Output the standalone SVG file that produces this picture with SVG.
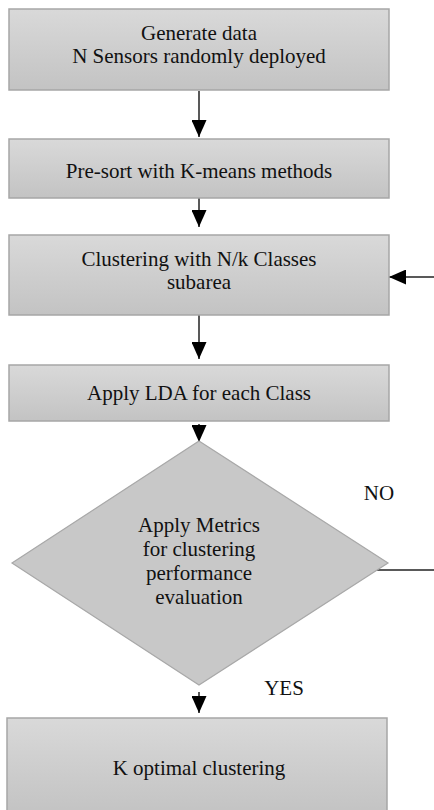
<svg xmlns="http://www.w3.org/2000/svg" width="434" height="810" viewBox="0 0 434 810">
<defs>
<linearGradient id="g" x1="0" y1="0" x2="0" y2="1">
<stop offset="0" stop-color="#d9d9d9"/>
<stop offset="1" stop-color="#c3c3c3"/>
</linearGradient>
<marker id="ah" markerWidth="17" markerHeight="15" refX="17" refY="7.5" orient="auto" markerUnits="userSpaceOnUse">
<path d="M0,0 L17,7.5 L0,15 Z" fill="#000"/>
</marker>
</defs>
<g id="connectors" stroke="#222" stroke-width="1.5" fill="none">
<line x1="199" y1="91" x2="199" y2="137" marker-end="url(#ah)"/>
<line x1="199" y1="198" x2="199" y2="227" marker-end="url(#ah)"/>
<line x1="199" y1="315" x2="199" y2="359" marker-end="url(#ah)"/>
<line x1="199" y1="424" x2="199" y2="442" marker-end="url(#ah)"/>
<line x1="199" y1="692" x2="199" y2="713" marker-end="url(#ah)"/>
<line x1="375" y1="570" x2="434" y2="570"/>
<line x1="434" y1="277" x2="389" y2="277" marker-end="url(#ah)"/>
</g>
<g id="nodes" fill="url(#g)" stroke="#a6a6a6" stroke-width="1.5">
<g id="n1"><rect x="9" y="9" width="380" height="81"/></g>
<g id="n2"><rect x="9" y="139" width="380" height="59"/></g>
<g id="n3"><rect x="9" y="235" width="380" height="80"/></g>
<g id="n4"><rect x="9" y="365" width="380" height="56"/></g>
<g id="n5"><polygon points="199,441 388,563 199,685 12,563" fill="#c8c8c8" stroke="#a8a8a8" stroke-width="1.2"/></g>
<g id="n6"><rect x="7" y="718" width="380" height="95"/></g>
</g>
<text font-family="Liberation Serif" font-size="21" fill="#111" text-anchor="middle" x="199" y="40">Generate data</text>
<text font-family="Liberation Serif" font-size="21" fill="#111" text-anchor="middle" x="199" y="63">N Sensors randomly deployed</text>
<text font-family="Liberation Serif" font-size="21" fill="#111" text-anchor="middle" x="199" y="178">Pre-sort with K-means methods</text>
<text font-family="Liberation Serif" font-size="21" fill="#111" text-anchor="middle" x="199" y="266">Clustering with N/k Classes</text>
<text font-family="Liberation Serif" font-size="21" fill="#111" text-anchor="middle" x="199" y="289">subarea</text>
<text font-family="Liberation Serif" font-size="21" fill="#111" text-anchor="middle" x="199" y="400">Apply LDA for each Class</text>
<text font-family="Liberation Serif" font-size="21" fill="#111" text-anchor="middle" x="199" y="532">Apply Metrics</text>
<text font-family="Liberation Serif" font-size="21" fill="#111" text-anchor="middle" x="199" y="556">for clustering</text>
<text font-family="Liberation Serif" font-size="21" fill="#111" text-anchor="middle" x="199" y="580">performance</text>
<text font-family="Liberation Serif" font-size="21" fill="#111" text-anchor="middle" x="199" y="604">evaluation</text>
<text font-family="Liberation Serif" font-size="21" fill="#111" text-anchor="middle" x="199" y="775">K optimal clustering</text>
<text font-family="Liberation Serif" font-size="21" fill="#111" text-anchor="middle" x="379" y="500">NO</text>
<text font-family="Liberation Serif" font-size="21" fill="#111" text-anchor="middle" x="284" y="695">YES</text>
</svg>
